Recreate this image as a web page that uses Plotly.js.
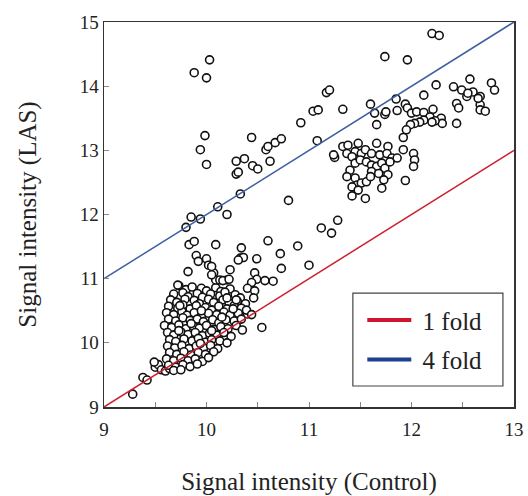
<!DOCTYPE html>
<html>
<head>
<meta charset="utf-8">
<script src="https://cdn.plot.ly/plotly-3.0.1.min.js"></script>
<style>html,body{margin:0;padding:0;background:#fff;}#chart{width:528px;height:496px;}</style>
</head>
<body>
<div id="chart"></div>
<script>
// Scatter points: [control, LAS]
const outlierPts = [
 [9.88,14.21],[10.00,14.13],[10.03,14.41],[9.985,13.23],[9.94,13.01],[10.00,12.78],[10.44,13.20],[10.29,12.83],
 [10.37,12.87],[10.45,12.76],[10.50,12.71],[10.29,12.63],[10.31,12.66],[10.58,13.01],[10.60,13.06],[10.67,13.12],
 [10.73,13.18],[10.62,12.83],[10.92,13.43],[11.04,13.61],[11.09,13.63],[11.08,13.15],[10.80,12.22],[10.33,12.32],
 [10.11,12.12],[10.20,12.00],[9.85,11.96],[9.94,11.93],[9.80,11.80],[11.12,11.79],[11.22,11.71],[11.28,11.91],
 [11.00,11.21],[10.73,11.16]
];
const middlePts = [
 [10.09,11.53],[10.34,11.48],[10.60,11.59],[10.89,11.51],[10.72,11.39],[10.33,11.32],[10.36,11.33],[10.49,11.31],
 [10.00,11.31],[9.83,11.53],[9.88,11.58],[9.90,11.36],[9.92,11.27],[10.02,11.21],[9.82,11.11],[10.07,11.09],
 [10.09,10.98],[10.13,10.98],[10.23,11.14],[10.20,10.98],[10.31,11.29],[10.47,11.09],[10.49,10.99],[10.44,10.94],
 [10.40,10.85],[10.47,10.81],[10.57,10.97],[10.65,10.96],[10.46,10.70],[10.39,10.51],[10.44,10.44],[10.54,10.24],
 [10.20,10.70],[10.29,10.67],[9.72,10.90],[10.05,11.19],[10.05,11.06],[10.16,10.97],[10.22,10.99]
];
const upperRightPts = [
 [11.17,13.90],[11.20,13.94],[11.33,13.64],[11.60,13.72],[11.85,13.80],[12.12,13.86],[12.24,14.02],[12.20,14.82],
 [12.27,14.79],[11.74,14.46],[11.96,14.41],[11.64,13.58],[11.74,13.56],[11.75,13.60],[11.66,13.40],[11.86,13.62],
 [11.94,13.72],[11.96,13.66],[12.00,13.58],[12.05,13.60],[12.12,13.59],[12.21,13.64],[12.18,13.52],[12.12,13.47],
 [12.08,13.44],[12.03,13.42],[11.99,13.40],[11.95,13.32],[11.92,13.20],[12.29,13.50],[12.30,13.42],[12.23,13.46],
 [12.20,13.44],[11.92,13.01],[12.02,12.95],[12.03,12.85],[12.02,12.75],[11.94,12.53],[12.41,13.99],[12.49,13.94],
 [12.57,14.11],[12.60,13.91],[12.54,13.84],[12.67,13.84],[12.67,13.71],[12.67,13.63],[12.72,13.61],[12.78,14.05],
 [12.81,13.94],[12.44,13.73],[12.46,13.66],[12.44,13.42],[12.55,13.89],[12.65,13.81]
];
const rightClusterPts = [
 [11.33,13.06],[11.38,13.08],[11.48,13.11],[11.45,12.98],[11.51,12.95],[11.55,13.01],[11.61,12.95],[11.66,13.11],
 [11.69,12.93],[11.77,13.06],[11.76,12.95],[11.81,12.88],[11.86,12.88],[11.37,12.95],[11.42,12.90],[11.45,12.80],
 [11.50,12.85],[11.56,12.82],[11.61,12.77],[11.66,12.75],[11.71,12.80],[11.74,12.72],[11.77,12.62],[11.40,12.69],
 [11.37,12.59],[11.45,12.57],[11.47,12.46],[11.51,12.49],[11.56,12.51],[11.61,12.67],[11.68,12.64],[11.73,12.54],
 [11.71,12.41],[11.42,12.43],[11.48,12.38],[11.55,12.25],[11.42,12.29],[11.79,12.82],[11.60,12.59],[11.25,12.89],
 [11.24,12.93]
];
const tailPts = [
 [9.28,9.20],[9.38,9.46],[9.42,9.42],[9.50,9.62],[9.53,9.66],[9.56,9.58],[9.60,9.56],[9.64,9.60],[9.49,9.70]
];
const densePts = [
 [9.73,10.89],[9.80,10.83],[9.86,10.87],[9.95,10.85],[10.00,10.81],[10.09,10.86],[10.14,10.80],[10.23,10.84],
 [9.68,10.76],[9.77,10.78],[9.82,10.72],[9.91,10.77],[9.96,10.71],[10.04,10.76],[10.13,10.73],[10.18,10.79],[10.28,10.75],[10.33,10.70],
 [9.65,10.67],[9.71,10.63],[9.79,10.68],[9.88,10.66],[9.93,10.61],[10.02,10.68],[10.07,10.63],[10.16,10.67],[10.22,10.62],[10.30,10.65],[10.38,10.61],
 [9.63,10.57],[9.72,10.54],[9.77,10.59],[9.84,10.53],[9.90,10.58],[9.99,10.55],[10.05,10.51],[10.12,10.57],[10.20,10.53],[10.27,10.58],[10.34,10.54],
 [9.61,10.47],[9.68,10.44],[9.76,10.49],[9.81,10.43],[9.88,10.47],[9.95,10.42],[10.02,10.46],[10.10,10.44],[10.17,10.48],[10.23,10.43],[10.31,10.46],[10.40,10.45],
 [9.63,10.37],[9.70,10.34],[9.77,10.39],[9.84,10.35],[9.91,10.37],[9.97,10.33],[10.06,10.36],[10.12,10.31],[10.19,10.36],[10.27,10.34],[10.34,10.37],
 [9.59,10.27],[9.66,10.24],[9.73,10.28],[9.80,10.22],[9.87,10.26],[9.93,10.23],[10.00,10.27],[10.07,10.21],[10.14,10.25],[10.21,10.22],[10.29,10.27],[10.35,10.20],
 [9.62,10.16],[9.68,10.12],[9.75,10.17],[9.82,10.13],[9.89,10.16],[9.96,10.11],[10.03,10.15],[10.10,10.12],[10.17,10.16],[10.24,10.10],
 [9.64,10.05],[9.70,10.02],[9.78,10.06],[9.86,10.03],[9.92,10.07],[9.99,10.01],[10.05,10.05],[10.13,10.03],[10.20,10.00],
 [9.62,9.95],[9.69,9.92],[9.76,9.96],[9.83,9.91],[9.90,9.95],[9.97,9.92],[10.04,9.96],[10.11,9.91],
 [9.64,9.85],[9.71,9.82],[9.78,9.86],[9.85,9.81],[9.92,9.85],[9.99,9.82],[10.07,9.86],
 [9.61,9.75],[9.68,9.72],[9.75,9.76],[9.82,9.72],[9.89,9.75],[9.96,9.71],[10.02,9.77],
 [9.63,9.65],[9.70,9.62],[9.77,9.66],[9.84,9.63],[9.91,9.67],
 [9.68,9.57],[9.75,9.58],
 [9.74,10.58],[9.95,10.50],[10.15,10.40],[9.85,10.30],[10.05,10.19],[9.94,9.99],[9.73,10.19],[10.26,10.53]
];
const foldLabels = ['\u00a01 fold','\u00a04 fold'];
const foldLineX = [9,13];
const oneFoldY = [9,13];
const fourFoldY = [11,15];
const xTicks = [9,10,11,12,13];
const yTicks = [9,10,11,12,13,14,15];

const allPts = [].concat(tailPts, densePts, middlePts, outlierPts, rightClusterPts, upperRightPts);
const xs = allPts.map(p => p[0]);
const ys = allPts.map(p => p[1]);

const serif = 'Liberation Serif';
const red = '#cc1f2f', blue = '#3f5f9f';

const traces = [
 {x: xs, y: ys, type:'scatter', mode:'markers', showlegend:false, hoverinfo:'skip',
  marker:{symbol:'circle', size:8, color:'#ffffff', line:{color:'#111111', width:1.6}}},
 {x: foldLineX, y: oneFoldY, type:'scatter', mode:'lines', showlegend:false, line:{color:red, width:1.5}},
 {x: foldLineX, y: fourFoldY, type:'scatter', mode:'lines', showlegend:false, line:{color:blue, width:1.5}},
 {x:[null], y:[null], type:'scatter', mode:'lines', name:foldLabels[0], legendgroup:'a', line:{color:'#d0142c', width:4}},
 {x:[null], y:[null], type:'scatter', mode:'lines', name:foldLabels[1], legendgroup:'b', line:{color:'#1f3f8f', width:4}}
];

const layout = {
 width:528, height:496,
 margin:{l:104, r:14, t:22, b:89},
 paper_bgcolor:'#fff', plot_bgcolor:'#fff',
 font:{family:serif, color:'#222', size:18},
 xaxis:{range:[9,13], tickvals:xTicks, ticks:'inside', ticklen:5, tickcolor:'#888', tickwidth:1,
   minor:{dtick:0.5, ticks:'inside', ticklen:5, tickcolor:'#888'},
   showline:true, linecolor:'#333', linewidth:1.5, mirror:true, showgrid:false, zeroline:false,
   ticklabelstandoff:5,
   tickfont:{family:serif, size:19, color:'#222'},
   title:{text:'Signal intensity (Control)', font:{family:serif, size:25, color:'#222'}, standoff:34}},
 yaxis:{range:[9,15], tickvals:yTicks, ticks:'inside', ticklen:5, tickcolor:'#888', tickwidth:1,
   showline:true, linecolor:'#333', linewidth:1.5, mirror:true, showgrid:false, zeroline:false,
   tickfont:{family:serif, size:19, color:'#222'},
   title:{text:'Signal intensity (LAS)', font:{family:serif, size:25, color:'#222'}, standoff:36}},
 shapes:[{type:'rect', xref:'paper', yref:'paper', x0:0.607, x1:0.973, y0:0.0545, y1:0.296,
   fillcolor:'#ffffff', line:{color:'#444', width:1.2}, layer:'above'}],
 showlegend:true,
 legend:{x:0.63, y:0.285, xanchor:'left', yanchor:'top', bgcolor:'rgba(0,0,0,0)', borderwidth:0,
   font:{family:serif, size:25, color:'#222'}, itemwidth:44, traceorder:'grouped', tracegroupgap:4}
};

Plotly.newPlot('chart', traces, layout, {displayModeBar:false, staticPlot:true});
</script>
</body>
</html>
